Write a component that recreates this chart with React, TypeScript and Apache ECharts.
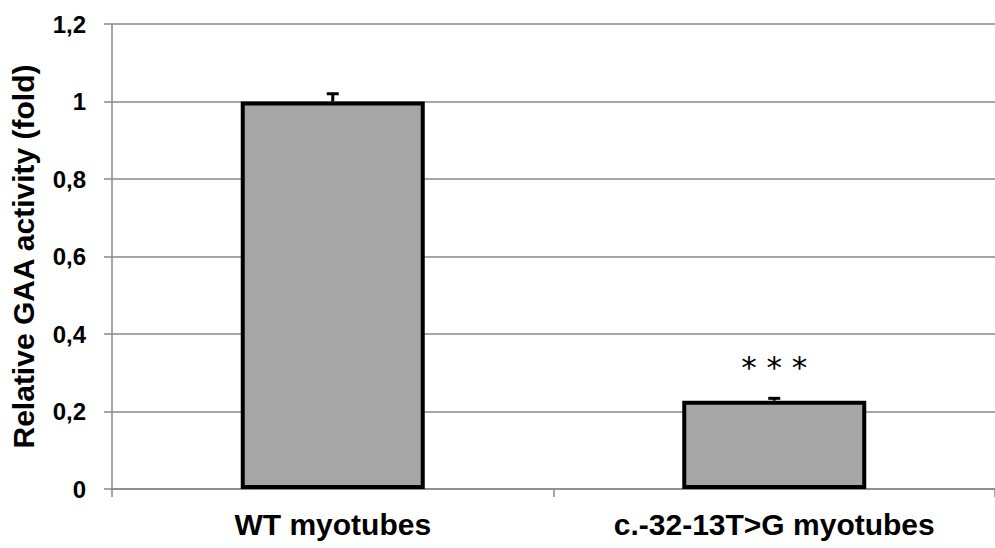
import React, { useEffect, useRef } from "react";
import * as echarts from "echarts";

const categories = ["WT myotubes", "c.-32-13T>G myotubes"];
const values = [1.0, 0.228];
const errors = [0.02, 0.006];
const significance = ["", "* * *"];
const yTicks = [0, 0.2, 0.4, 0.6, 0.8, 1, 1.2];

export default function App() {
  const ref = useRef<HTMLDivElement>(null);
  useEffect(() => {
    const chart = echarts.init(ref.current!, null, { renderer: "svg" });
    chart.setOption({
      animation: false,
      backgroundColor: "#ffffff",
      grid: { left: 108, right: -9, top: 24, bottom: 59, containLabel: false },
      xAxis: {
        type: "category",
        data: categories,
        axisLine: { lineStyle: { color: "#888888", width: 1.5 } },
        axisTick: { show: true, length: 8, lineStyle: { color: "#888888", width: 1.5 } },
        axisLabel: {
          color: "#000",
          fontSize: 30,
          fontWeight: "bold",
          fontFamily: "Liberation Sans, Arial, sans-serif",
          margin: 20,
        },
      },
      yAxis: {
        type: "value",
        min: 0,
        max: 1.2,
        interval: 0.2,
        name: "Relative GAA activity (fold)",
        nameLocation: "middle",
        nameRotate: 90,
        nameGap: 74,
        nameTextStyle: {
          color: "#000",
          fontSize: 30,
          fontWeight: "bold",
          fontFamily: "Liberation Sans, Arial, sans-serif",
        },
        axisLine: { show: true, lineStyle: { color: "#888888", width: 1.5 } },
        axisTick: { show: true, length: 8, lineStyle: { color: "#888888", width: 1.5 } },
        splitLine: { show: true, lineStyle: { color: "#888888", width: 1.5 } },
        axisLabel: {
          color: "#000",
          fontSize: 24,
          fontWeight: "bold",
          margin: 26,
          fontFamily: "Liberation Sans, Arial, sans-serif",
          formatter: (v: number) => {
            const t = yTicks.find((x) => Math.abs(x - v) < 1e-9);
            return String(Math.round((t ?? v) * 10) / 10).replace(".", ",");
          },
        },
      },
      series: [
        {
          type: "bar",
          data: values,
          barWidth: 184,
          itemStyle: { color: "#a6a6a6", borderColor: "#000", borderWidth: 4 },
          z: 2,
        },
        {
          type: "custom",
          data: values.map((v, i) => [i, v, errors[i]]),
          z: 3,
          renderItem: (params: any, api: any) => {
            const i = api.value(0);
            const v = api.value(1);
            const e = api.value(2);
            const top = api.coord([i, v + e]);
            const base = api.coord([i, v]);
            const children: any[] = [
              {
                type: "line",
                shape: { x1: top[0], y1: top[1], x2: base[0], y2: base[1] },
                style: { stroke: "#000", lineWidth: 3 },
              },
              {
                type: "line",
                shape: { x1: top[0] - 6, y1: top[1], x2: top[0] + 6, y2: top[1] },
                style: { stroke: "#000", lineWidth: 3 },
              },
            ];
            const s = significance[i];
            if (s) {
              const p = api.coord([i, 0.315]);
              children.push({
                type: "text",
                x: p[0],
                y: p[1],
                style: {
                  text: s,
                  fill: "#000",
                  fontSize: 31,
                  fontFamily: "DejaVu Sans, sans-serif",
                  align: "center",
                  verticalAlign: "middle",
                },
              });
            }
            return { type: "group", children };
          },
        },
      ],
    });
    return () => chart.dispose();
  }, []);
  return <div ref={ref} style={{ width: 995, height: 548, position: "absolute", left: 0, top: 0 }} />;
}
